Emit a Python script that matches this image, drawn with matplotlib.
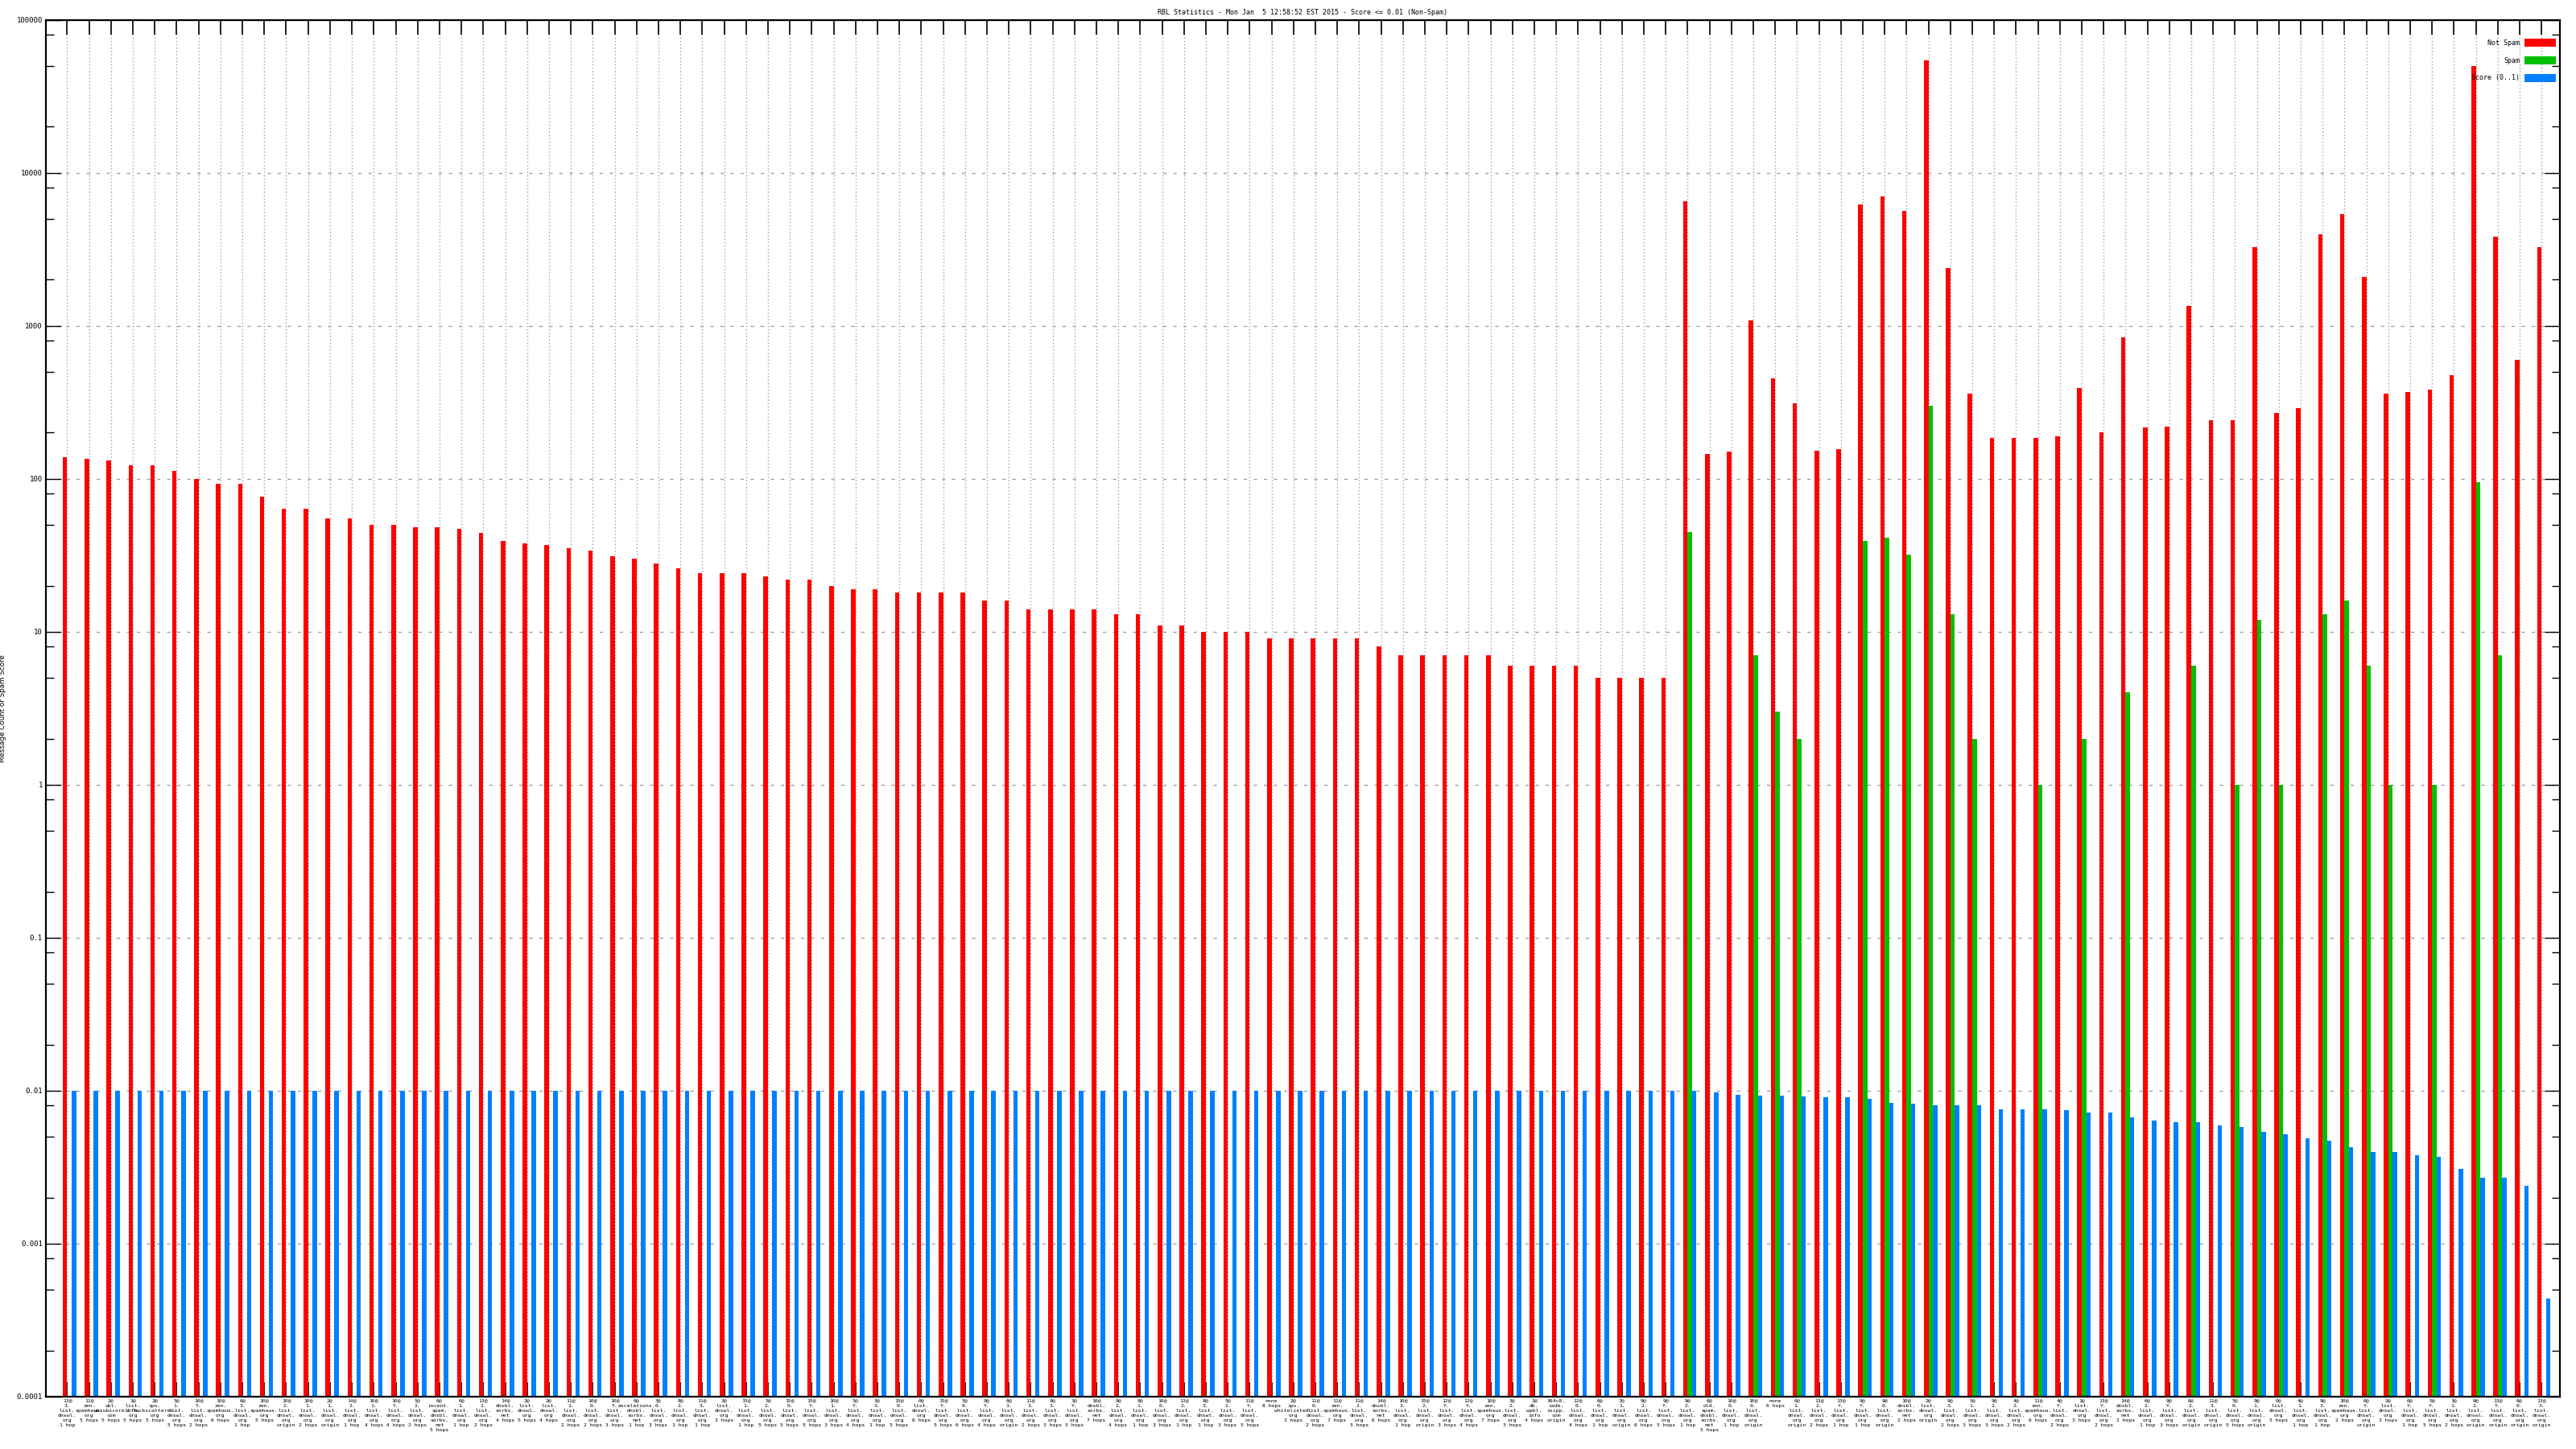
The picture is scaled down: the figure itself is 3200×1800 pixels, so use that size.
import numpy as np
import matplotlib
matplotlib.use("Agg")
import matplotlib.pyplot as plt
from matplotlib.patches import Rectangle
from matplotlib.ticker import LogLocator, FixedFormatter, FixedLocator, NullFormatter

# 1. Dades (llegides del grafic)
etiquetes = [
    "13@/3./list./dnswl./org/1 hop", "11@/zen./spamhaus./org/5 hops", "2@/ubl./unsubscore./com/5 hops",
    "1@/list./bbfh./org/5 hops", "2@/ips./backscatterer./org/5 hops", "5@/1./list./dnswl./org/5 hops",
    "10@/Y./list./dnswl./org/2 hops", "10@/zen./spamhaus./org/6 hops", "6@/3./list./dnswl./org/1 hop",
    "10@/zen./spamhaus./org/5 hops", "10@/2./list./dnswl./org/origin", "10@/1./list./dnswl./org/2 hops",
    "2@/1./list./dnswl./org/origin", "14@/2./list./dnswl./org/1 hop", "10@/1./list./dnswl./org/4 hops",
    "10@/Y./list./dnswl./org/4 hops", "5@/2./list./dnswl./org/2 hops", "6@/recent./spam./dnsbl./sorbs./net/5 hops",
    "6@/1./list./dnswl./org/1 hop", "13@/1./list./dnswl./org/2 hops", "14@/dnsbl./sorbs./net/4 hops",
    "2@/list./dnswl./org/5 hops", "2@/list./dnswl./org/4 hops", "11@/1./list./dnswl./org/2 hops",
    "10@/0./list./dnswl./org/2 hops", "10@/Y./list./dnswl./org/3 hops", "6@/escalations./dnsbl./sorbs./net/1 hop",
    "3@/0./list./dnswl./org/3 hops", "8@/2./list./dnswl./org/1 hop", "11@/3./list./dnswl./org/1 hop",
    "3@/list./dnswl./org/3 hops", "15@/1./list./dnswl./org/1 hop", "5@/2./list./dnswl./org/5 hops",
    "15@/0./list./dnswl./org/5 hops", "15@/Y./list./dnswl./org/5 hops", "10@/1./list./dnswl./org/3 hops",
    "5@/Y./list./dnswl./org/4 hops", "3@/3./list./dnswl./org/1 hop", "15@/0./list./dnswl./org/5 hops",
    "0@/list./dnswl./org/6 hops", "15@/Y./list./dnswl./org/5 hops", "5@/0./list./dnswl./org/6 hops",
    "9@/Y./list./dnswl./org/4 hops", "6@/3./list./dnswl./org/origin", "11@/3./list./dnswl./org/2 hops",
    "9@/3./list./dnswl./org/3 hops", "3@/Y./list./dnswl./org/5 hops", "10@/dnsbl./sorbs./net/7 hops",
    "9@/2./list./dnswl./org/4 hops", "8@/1./list./dnswl./org/1 hop", "10@/0./list./dnswl./org/3 hops",
    "13@/2./list./dnswl./org/1 hop", "8@/3./list./dnswl./org/1 hop", "5@/2./list./dnswl./org/3 hops",
    "11@/Y./list./dnswl./org/5 hops", "none/8 hops", "2@/ips./whitelisted./org/3 hops",
    "11@/0./list./dnswl./org/2 hops", "11@/zen./spamhaus./org/7 hops", "11@/2./list./dnswl./org/5 hops",
    "14@/dnsbl./sorbs./net/6 hops", "10@/3./list./dnswl./org/1 hop", "15@/2./list./dnswl./org/origin",
    "12@/Y./list./dnswl./org/3 hops", "12@/Y./list./dnswl./org/4 hops", "10@/zen./spamhaus./org/7 hops",
    "3@/2./list./dnswl./org/3 hops", "2@/db./wpbl./info/4 hops", "364c8./iadb./isipp./com/origin",
    "12@/0./list./dnswl./org/4 hops", "6@/0./list./dnswl./org/1 hop", "7@/1./list./dnswl./org/origin",
    "9@/2./list./dnswl./org/6 hops", "9@/Y./list./dnswl./org/5 hops", "9@/2./list./dnswl./org/1 hop",
    "6@/old./spam./dnsbl./sorbs./net/5 hops", "10@/0./list./dnswl./org/1 hop", "10@/0./list./dnswl./org/origin",
    "none/6 hops", "6@/1./list./dnswl./org/origin", "13@/2./list./dnswl./org/2 hops",
    "13@/Y./list./dnswl./org/1 hop", "9@/Y./list./dnswl./org/1 hop", "9@/0./list./dnswl./org/origin",
    "10@/dnsbl./sorbs./net/2 hops", "2@/list./dnswl./org/origin", "9@/3./list./dnswl./org/2 hops",
    "5@/1./list./dnswl./org/3 hops", "9@/2./list./dnswl./org/3 hops", "4@/2./list./dnswl./org/2 hops",
    "11@/zen./spamhaus./org/6 hops", "4@/Y./list./dnswl./org/2 hops", "1@/list./dnswl./org/3 hops",
    "13@/Y./list./dnswl./org/2 hops", "14@/dnsbl./sorbs./net/2 hops", "6@/2./list./dnswl./org/1 hop",
    "9@/Y./list./dnswl./org/3 hops", "6@/2./list./dnswl./org/origin", "11@/3./list./dnswl./org/origin",
    "5@/0./list./dnswl./org/5 hops", "9@/1./list./dnswl./org/origin", "0@/list./dnswl./org/5 hops",
    "4@/1./list./dnswl./org/1 hop", "9@/3./list./dnswl./org/1 hop", "10@/zen./spamhaus./org/2 hops",
    "6@/Y./list./dnswl./org/origin", "2@/list./dnswl./org/3 hops", "6@/Y./list./dnswl./org/1 hop",
    "5@/Y./list./dnswl./org/5 hops", "3@/1./list./dnswl./org/2 hops", "9@/2./list./dnswl./org/origin",
    "13@/Y./list./dnswl./org/origin", "6@/0./list./dnswl./org/origin", "13@/3./list./dnswl./org/origin",
]

not_spam = [
    138, 135, 131, 122, 122, 113, 100, 93, 93, 76,
    64, 64, 55, 55, 50, 50, 48, 48, 47, 44,
    39, 38, 37, 35, 34, 31, 30, 28, 26, 24,
    24, 24, 23, 22, 22, 20, 19, 19, 18, 18,
    18, 18, 16, 16, 14, 14, 14, 14, 13, 13,
    11, 11, 10, 10, 10, 9, 9, 9, 9, 9,
    8, 7, 7, 7, 7, 7, 6, 6, 6, 6,
    5, 5, 5, 5,
    6500, 145, 150, 1080, 452, 312, 152, 156, 6200, 7000,
    5600, 54000, 2370, 360, 185, 185, 185, 190, 390, 200,
    840, 215, 220, 1340, 240, 240, 3270, 270, 290, 3980,
    5350, 2090, 360, 370, 380, 475, 49600, 3800, 595, 3270,
]

spam = [0] * 74 + [
    45, 0, 0, 7, 3, 2, 0, 0, 39, 41,
    32, 300, 13, 2, 0, 0, 1, 0, 2, 0,
    4, 0, 0, 6, 0, 1, 12, 1, 0, 13,
    16, 6, 1, 0, 1, 0, 95, 7, 0, 0,
]

score = [0.01] * 74 + [
    0.01, 0.0098, 0.0094, 0.0093, 0.0093, 0.0092, 0.0091, 0.0091, 0.0088, 0.0083,
    0.0082, 0.008, 0.008, 0.008, 0.0076, 0.0076, 0.0076, 0.0075, 0.0072, 0.0072,
    0.0067, 0.0064, 0.0062, 0.0062, 0.0059, 0.0058, 0.0054, 0.0052, 0.0049, 0.0047,
    0.0043, 0.004, 0.004, 0.0038, 0.0037, 0.0031, 0.0027, 0.0027, 0.0024, 0.00044,
]

titol = "RBL Statistics - Mon Jan  5 12:58:52 EST 2015 - Score <= 0.01 (Non-Spam)"
series = ["Not Spam", "Spam", "Score (0..1)"]
colors = ["#ff0000", "#00c000", "#0080ff"]

# 2. Figura
W, H = 3200, 1800
fig = plt.figure(figsize=(32, 18), dpi=100)
ax = fig.add_axes([57 / W, 1 - 1735 / H, (3180 - 57) / W, (1735 - 24.5) / H])

x = np.arange(len(not_spam))
w = 0.205
base = 1e-4
vals = [np.array(not_spam, float), np.array(spam, float), np.array(score, float)]
for k, (v, c) in enumerate(zip(vals, colors)):
    m = v > 0
    ax.bar(x[m] + (k - 1) * w, v[m] - base, bottom=base, width=w, align="edge",
           color=c, linewidth=0, zorder=2)

ax.set_yscale("log")
ax.set_ylim(1e-4, 1e5)
ax.set_xlim(-0.974, 113.84)

dec = [10.0 ** e for e in range(-4, 6)]
ax.yaxis.set_major_locator(FixedLocator(dec))
ax.yaxis.set_major_formatter(FixedFormatter(["0.0001", "0.001", "0.01", "0.1", "1", "10", "100", "1000", "10000", "100000"]))
ax.yaxis.set_minor_locator(LogLocator(base=10, subs=(2, 5, 8)))
ax.yaxis.set_minor_formatter(NullFormatter())

ax.set_xticks(x, [e.replace("/", "\n") for e in etiquetes])
ax.tick_params(axis="x", which="major", direction="in", length=13, width=1.2,
               top=True, bottom=True, pad=2, labelsize=4.6)
ax.tick_params(axis="y", which="major", direction="in", length=14, width=1.0,
               left=True, right=True, pad=3, labelsize=6.5)
ax.tick_params(axis="y", which="minor", direction="in", length=7, width=1.0,
               left=True, right=True)
for t in ax.get_xticklabels():
    t.set_family("DejaVu Sans Mono")
    t.set_linespacing(1.27)
for t in ax.get_yticklabels():
    t.set_family("DejaVu Sans Mono")

ax.grid(True, which="major", axis="x", color="#a0a0a0", linestyle=(0, (1, 2)), linewidth=1.0)
ax.grid(True, which="major", axis="y", color="#a0a0a0", linestyle=(0, (3, 6)), linewidth=1.0)
ax.set_axisbelow(True)
for s in ax.spines.values():
    s.set_linewidth(1.6)

ax.set_ylabel("Message Count or Spam Score", fontsize=6.3, family="DejaVu Sans")
ax.yaxis.set_label_coords((8 - 57) / (3180 - 57), 0.5)
ax.set_title(titol, fontsize=6, family="DejaVu Sans Mono", pad=5)

# llegenda estil gnuplot
for i, (nom, c) in enumerate(zip(series, colors)):
    yc = 53 + i * 22
    fig.text(3130 / W, 1 - yc / H, nom, ha="right", va="center", fontsize=6, family="DejaVu Sans Mono")
    fig.add_artist(Rectangle((3136 / W, 1 - (yc + 5) / H), 39 / W, 10 / H,
                             transform=fig.transFigure, color=c, linewidth=0))

fig.savefig("out.png", dpi=100)
